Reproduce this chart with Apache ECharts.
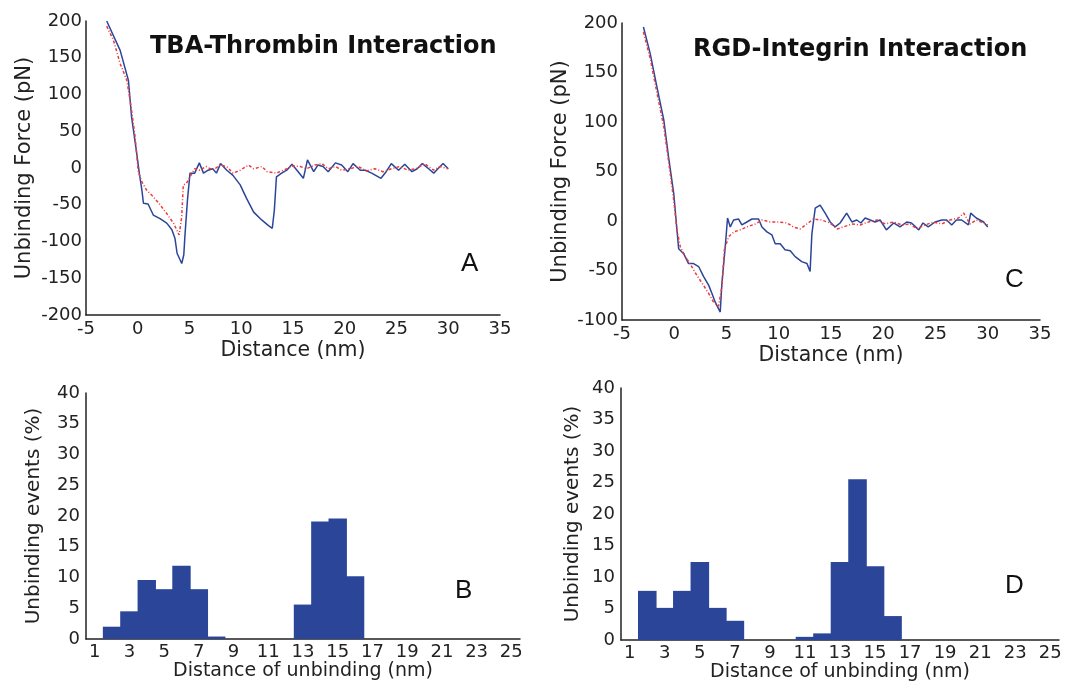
<!DOCTYPE html>
<html><head><meta charset="utf-8">
<script src="https://cdn.jsdelivr.net/npm/echarts@6/dist/echarts.min.js"></script>
<style>html,body{margin:0;padding:0;background:#fff}#c{width:1084px;height:688px}</style>
</head><body><div id="c"></div>
<script>
// ---- data ----
const tbaBlue = [[-3,200],[-1.7,160],[-0.9,119],[-0.6,70],[-0.1,20],[0.15,-7],[0.4,-30],[0.55,-48],[1.0,-49],[1.5,-64],[2.15,-69],[2.8,-75],[3.3,-84],[3.6,-96],[3.8,-116],[4.25,-130],[4.45,-118],[4.55,-94],[4.8,-44],[5.05,-7],[5.5,-7],[5.95,7],[6.35,-7],[6.8,-3],[7.25,-1],[7.6,-7],[8.0,6],[8.6,-3],[9.2,-10],[9.9,-23],[10.5,-41],[11.2,-60],[12.0,-71],[12.6,-78],[13.0,-82],[13.2,-57],[13.4,-12],[13.9,-7],[14.4,-3],[14.9,5],[15.5,-5],[16.0,-14],[16.4,11],[17.0,-5],[17.4,4],[17.9,2],[18.4,-5],[19.1,7],[19.7,4],[20.3,-5],[20.8,6],[21.5,-3],[22.0,-3],[22.6,-7],[23.5,-14],[24.0,-5],[24.5,6],[25.2,-3],[25.8,5],[26.5,-5],[27.0,-1],[27.5,6],[28.1,-1],[28.6,-7],[29.0,-1],[29.5,6],[30.0,-1]];
const tbaRed = [[-3,193],[-2.35,174],[-1.7,142],[-1.05,119],[-0.6,79],[-0.25,42],[0.05,-5],[0.4,-19],[0.85,-30],[1.5,-39],[2.15,-50],[2.8,-62],[3.45,-75],[4.0,-91],[4.25,-66],[4.4,-23],[4.7,-21],[5.05,-12],[5.5,-1],[6.0,-3],[6.6,2],[7.3,-3],[7.9,4],[8.6,2],[9.2,-7],[9.9,-3],[10.7,4],[11.2,-1],[12.0,2],[12.5,-5],[13.4,-7],[14.4,-1],[15.0,3],[15.7,2],[16.3,-1],[17.1,4],[17.8,6],[18.4,-1],[19.1,2],[19.7,-3],[20.5,-1],[21.3,2],[22.1,-4],[22.9,-1],[23.7,-5],[24.5,-1],[25.3,2],[26.1,-3],[26.9,-1],[27.7,6],[28.6,-3],[29.2,2],[30.0,-1]];
const rgdBlue = [[-2.95,196],[-2.3,169],[-1.65,135],[-1.0,102],[-0.55,65],[-0.05,28],[0.2,-2],[0.42,-28],[0.9,-33],[1.37,-43],[1.85,-43],[2.33,-46],[2.8,-56],[3.3,-65],[3.6,-73],[3.92,-82],[4.4,-92],[4.56,-63],[4.88,-26],[5.1,3],[5.36,-6],[5.68,1],[6.16,2],[6.47,-4],[6.95,-1],[7.43,2],[8.07,2],[8.39,-6],[8.87,-11],[9.34,-14],[9.66,-23],[10.14,-23],[10.6,-29],[11.1,-30],[11.57,-36],[12.2,-41],[12.7,-43],[13.0,-51],[13.17,-13],[13.49,13],[13.96,16],[14.44,8],[14.92,-1],[15.4,-6],[15.87,-2],[16.5,8],[17.0,-1],[17.47,1],[17.85,-2],[18.27,3],[18.75,1],[19.22,-1],[19.7,1],[20.3,-9],[21.0,-2],[21.6,-6],[22.25,-1],[22.7,-2],[23.4,-9],[23.8,-2],[24.3,-6],[24.96,-1],[25.6,1],[26.07,1],[26.55,-4],[27.0,1],[27.5,1],[28.15,-4],[28.37,8],[28.9,3],[29.6,-1],[30.0,-6]];
const rgdRed = [[-2.95,191],[-2.3,164],[-1.65,129],[-1.0,95],[-0.55,61],[-0.05,21],[0.26,-9],[0.58,-26],[1.06,-36],[1.5,-43],[2.17,-55],[2.8,-65],[3.29,-73],[3.76,-82],[4.24,-86],[4.56,-66],[4.8,-29],[5.2,-16],[5.7,-11],[6.3,-9],[6.95,-6],[7.75,-3],[8.4,1],[9.2,-1],[10.0,-1],[10.8,-2],[11.4,-6],[12.05,-8],[12.7,-3],[13.3,2],[14.1,1],[14.9,-2],[15.6,-8],[16.2,-6],[17.0,-3],[17.8,-4],[18.6,-1],[19.4,1],[20.2,-3],[21.0,-1],[21.8,-4],[22.6,-3],[23.2,-8],[24.0,-4],[24.8,-1],[25.6,-3],[26.4,1],[27.2,3],[27.7,8],[28.3,-3],[28.9,1],[29.6,-2],[30.0,-4]];
const histCats = ['1','2','3','4','5','6','7','8','9','10','11','12','13','14','15','16','17','18','19','20','21','22','23','24','25'];
const histB = [0,2,4.5,9.6,8.1,11.9,8.1,0.4,0,0,0,0,5.6,19.1,19.6,10.2,0,0,0,0,0,0,0,0,0];
const histD = [0,7.8,5.1,7.8,12.4,5.1,3.05,0,0,0,0.5,1.05,12.4,25.5,11.7,3.8,0,0,0,0,0,0,0,0,0];
const titles = ['TBA-Thrombin Interaction','RGD-Integrin Interaction'];
const letters = ['A','B','C','D'];

// ---- chart ----
const FONT = 'DejaVu Sans';
const BLUE = '#2b4699';
const RED = '#ee3a3a';
const axisLineStyle = {show:true, onZero:false, lineStyle:{color:'#222', width:1.5}};
function valX(grid){
  return {type:'value', gridIndex:grid, min:-5, max:35, interval:5,
    axisLine:axisLineStyle, axisTick:{show:false}, splitLine:{show:false},
    axisLabel:{color:'#222', fontFamily:FONT, fontSize:18, margin:5},
    name:'Distance (nm)', nameLocation:'middle', nameGap:25,
    nameTextStyle:{color:'#222', fontFamily:FONT, fontSize:20.5}};
}
function valY(grid, min){
  return {type:'value', gridIndex:grid, min:min, max:200, interval:50,
    axisLine:axisLineStyle, axisTick:{show:false}, splitLine:{show:false},
    axisLabel:{color:'#222', fontFamily:FONT, fontSize:18, margin:4},
    name:'Unbinding Force (pN)', nameLocation:'middle', nameGap:51,
    nameTextStyle:{color:'#222', fontFamily:FONT, fontSize:21}};
}
function catX(grid){
  return {type:'category', gridIndex:grid, data:histCats,
    axisLine:axisLineStyle, axisTick:{show:false},
    axisLabel:{color:'#222', fontFamily:FONT, fontSize:18, margin:4, interval:1},
    name:'Distance of unbinding (nm)', nameLocation:'middle', nameGap:20,
    nameTextStyle:{color:'#222', fontFamily:FONT, fontSize:19}};
}
function histY(grid, gap){
  return {type:'value', gridIndex:grid, min:0, max:40, interval:5,
    axisLine:axisLineStyle, axisTick:{show:false}, splitLine:{show:false},
    axisLabel:{color:'#222', fontFamily:FONT, fontSize:18, margin:6},
    name:'Unbinding events (%)', nameLocation:'middle', nameGap:gap,
    nameTextStyle:{color:'#222', fontFamily:FONT, fontSize:20}};
}
function lineSeries(data, xi, color, dashed){
  return {type:'line', xAxisIndex:xi, yAxisIndex:xi, data:data, symbol:'none',
    lineStyle:{color:color, width:1.5, type: dashed ? [3,2,1,2] : 'solid'}, z: dashed ? 3 : 2, animation:false};
}
function barSeries(data, xi){
  return {type:'bar', xAxisIndex:xi, yAxisIndex:xi, data:data, barWidth:'106%', barCategoryGap:'0%',
    itemStyle:{color:BLUE, borderWidth:0}, animation:false};
}
const tstyle = {fontFamily:FONT, fontWeight:'bold', fontSize:24, color:'#111'};
const lstyle = {fontFamily:'Liberation Sans', fontWeight:'normal', fontSize:26, color:'#111'};
const option = {
  backgroundColor:'#fff',
  animation:false,
  title:[
    {text:titles[0], left:145, top:30, textStyle:tstyle},
    {text:titles[1], left:688, top:33, textStyle:tstyle},
    {text:letters[0], left:456, top:246, textStyle:lstyle},
    {text:letters[1], left:450, top:573, textStyle:lstyle},
    {text:letters[2], left:1000, top:262, textStyle:lstyle},
    {text:letters[3], left:1000, top:568, textStyle:lstyle}
  ],
  grid:[
    {left:86, top:21, width:414, height:294},
    {left:86, top:393, width:434, height:246},
    {left:622, top:23, width:418, height:297},
    {left:621, top:388, width:438, height:252}
  ],
  xAxis:[valX(0), catX(1), valX(2), catX(3)],
  yAxis:[valY(0,-200), histY(1,42), valY(2,-100), histY(3,38)],
  series:[
    lineSeries(tbaBlue,0,BLUE,false),
    lineSeries(tbaRed,0,RED,true),
    barSeries(histB,1),
    lineSeries(rgdBlue,2,BLUE,false),
    lineSeries(rgdRed,2,RED,true),
    barSeries(histD,3)
  ]
};
const chart = echarts.init(document.getElementById('c'), null, {renderer:'canvas'});
chart.setOption(option);
</script></body></html>
